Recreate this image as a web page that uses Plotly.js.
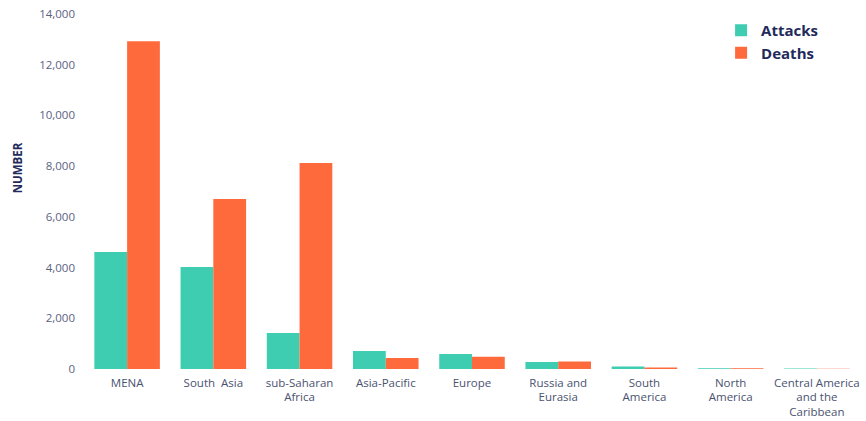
<!DOCTYPE html>
<html>
<head>
<meta charset="utf-8">
<script src="https://cdn.plot.ly/plotly-3.0.1.min.js"></script>
<style>html,body{margin:0;padding:0;background:#fff;}#chart{width:866px;height:421px;}</style>
</head>
<body>
<div id="chart"></div>
<script>
const categories = ["MENA", "South  Asia", "sub-Saharan<br>Africa", "Asia-Pacific", "Europe", "Russia and<br>Eurasia", "South<br>America", "North<br>America", "Central America<br>and the<br>Caribbean"];
const attacks = [4610, 4020, 1420, 710, 590, 280, 100, 30, 15];
const deaths = [12930, 6700, 8120, 430, 480, 300, 60, 25, 10];
const yTicks = [0, 2000, 4000, 6000, 8000, 10000, 12000, 14000];
const yTickLabels = ["0", "2,000", "4,000", "6,000", "8,000", "10,000", "12,000", "14,000"];

const traces = [
  {type: "bar", name: "Attacks", x: categories, y: attacks, marker: {color: "#3ecdb0"}},
  {type: "bar", name: "Deaths", x: categories, y: deaths, marker: {color: "#ff6a3d"}}
];

const layout = {
  width: 866, height: 421,
  margin: {l: 84, r: 6, t: 14, b: 52},
  paper_bgcolor: "#fff", plot_bgcolor: "#fff",
  font: {family: "Open Sans, sans-serif", size: 11, color: "#4a5270"},
  barmode: "group",
  bargap: 0.24,
  bargroupgap: 0,
  showlegend: true,
  legend: {x: 0.821, y: 1.0, xanchor: "left", yanchor: "top", font: {size: 15, color: "#1f2b5b", family: "Open Sans, sans-serif", weight: 700}, itemwidth: 30, bgcolor: "rgba(0,0,0,0)"},
  xaxis: {showgrid: false, zeroline: false, showline: false, ticks: "", tickfont: {size: 11.5, color: "#4a5270"}, tickangle: 0, ticklabelstandoff: 5, automargin: false},
  yaxis: {range: [0, 14000], tickvals: yTicks, ticktext: yTickLabels, showgrid: false, zeroline: false, showline: false, ticks: "", ticklen: 0, tickfont: {size: 11.5, color: "#5a6282"}, ticklabelstandoff: 8, automargin: false},
  annotations: [{text: "NUMBER", textangle: -90, xref: "paper", yref: "paper", x: -0.086, y: 0.566, xanchor: "center", yanchor: "middle", showarrow: false, font: {size: 11.5, color: "#1f2b5b", weight: 700}}]
};

Plotly.newPlot("chart", traces, layout, {displayModeBar: false, staticPlot: true});
</script>
</body>
</html>
